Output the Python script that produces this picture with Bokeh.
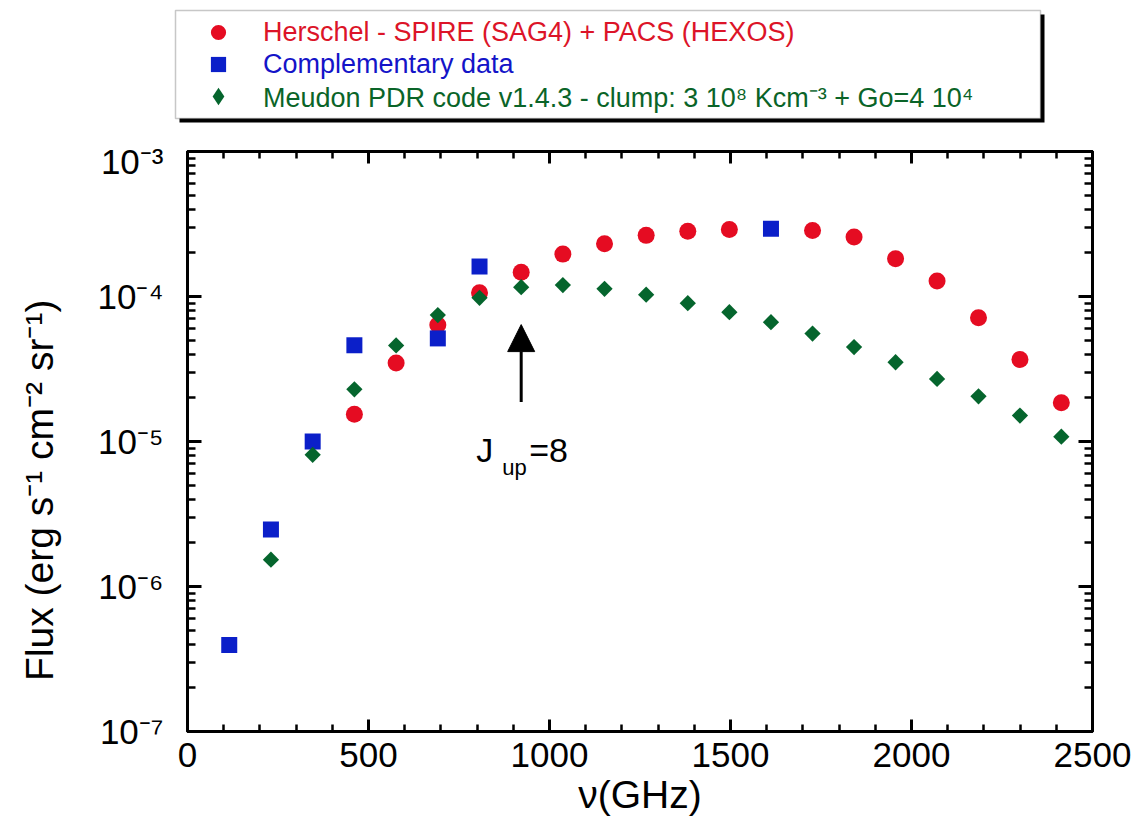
import math
from bokeh.plotting import figure
from bokeh.models import (LinearAxis, LogAxis, FixedTicker, Legend, LegendItem,
                          Label, Arrow, NormalHead, Range1d, BoxAnnotation)
from bokeh.embed import file_html
from bokeh.resources import INLINE

# ---------------- data (CO line frequencies in GHz, fluxes in erg s-1 cm-2 sr-1)
herschel_nu = [461.0, 576.3, 691.5, 806.7, 921.8, 1036.9, 1152.0, 1267.0, 1382.0,
               1496.9, 1726.6, 1841.3, 1956.0, 2070.6, 2185.1, 2299.6, 2413.9]
herschel_flux = [1.54e-5, 3.48e-5, 6.35e-5, 1.06e-4, 1.47e-4, 1.96e-4, 2.31e-4, 2.64e-4,
                 2.82e-4, 2.90e-4, 2.85e-4, 2.57e-4, 1.82e-4, 1.28e-4, 7.13e-5, 3.68e-5,
                 1.85e-5]

comp_nu = [115.3, 230.5, 345.8, 461.0, 691.5, 806.7, 1611.8]
comp_flux = [3.95e-7, 2.47e-6, 1.0e-5, 4.61e-5, 5.14e-5, 1.61e-4, 2.93e-4]

model_nu = [230.5, 345.8, 461.0, 576.3, 691.5, 806.7, 921.8, 1036.9, 1152.0, 1267.0,
            1382.0, 1496.9, 1611.8, 1726.6, 1841.3, 1956.0, 2070.6, 2185.1, 2299.6, 2413.9]
model_flux = [1.53e-6, 8.1e-6, 2.29e-5, 4.6e-5, 7.45e-5, 9.8e-5, 1.16e-4, 1.20e-4,
              1.13e-4, 1.03e-4, 9.0e-5, 7.8e-5, 6.65e-5, 5.55e-5, 4.48e-5, 3.52e-5,
              2.70e-5, 2.05e-5, 1.51e-5, 1.08e-5]

x_major = [0, 500, 1000, 1500, 2000, 2500]
x_minor = [v for v in range(100, 2500, 100) if v % 500 != 0]
y_major = [1e-7, 1e-6, 1e-5, 1e-4, 1e-3]
y_major_labels = ["10⁻⁷", "10⁻⁶", "10⁻⁵", "10⁻⁴", "10⁻³"]
y_minor = [k * 10.0 ** e for e in range(-7, -3) for k in range(2, 10)]

legend_labels = ["Herschel - SPIRE (SAG4) + PACS (HEXOS)",
                 "Complementary data",
                 "Meudon PDR code v1.4.3 - clump: 3 10⁸ Kcm⁻³ + Go=4 10⁴"]

arrow_nu = 921.8
arrow_flux = [1.87e-5, 6.4e-5]
jup_flux = 8.8e-6

RED = "#e50c22"
BLUE = "#0b1fc9"
GREEN = "#05652d"
RED_T = "#dc1428"
BLUE_T = "#1414c8"
GREEN_T = "#0a6428"
FONT = "Liberation Sans"

W = 1137
LEG_H = 141
NAN = float("nan")
NBSP = "\u00a0"

# ---------------- main plot
p = figure(frame_width=905, frame_height=580,
           x_range=Range1d(0, 2500), y_range=Range1d(1e-7, 1e-3),
           y_axis_type="log", output_backend="svg", toolbar_location=None,
           min_border_left=187, min_border_right=45, min_border_top=10,
           min_border_bottom=83, background_fill_color="white",
           border_fill_color="white")
p.xgrid.visible = False
p.ygrid.visible = False
p.outline_line_color = "black"
p.outline_line_width = 3

xt = FixedTicker(ticks=x_major, minor_ticks=x_minor)
yt = FixedTicker(ticks=y_major, minor_ticks=y_minor)


def style_axis(ax, major_len, minor_len):
    ax.axis_line_width = 3
    ax.axis_line_color = "black"
    ax.major_tick_line_width = 3
    ax.minor_tick_line_width = 2.5
    ax.major_tick_in = major_len
    ax.major_tick_out = 0
    ax.minor_tick_in = minor_len
    ax.minor_tick_out = 0
    ax.major_label_text_font = FONT
    ax.major_label_text_font_size = "35px"
    ax.major_label_text_color = "black"
    ax.axis_label_text_font = FONT
    ax.axis_label_text_font_size = "39px"
    ax.axis_label_text_font_style = "normal"
    ax.axis_label_text_color = "black"


xa = p.xaxis[0]
xa.ticker = xt
style_axis(xa, 12, 7)
xa.major_label_standoff = 11
xa.axis_label = "ν(GHz)"
xa.axis_label_standoff = 3

ya = p.yaxis[0]
ya.ticker = yt
style_axis(ya, 14, 8)
ya.major_label_overrides = dict(zip(y_major, y_major_labels))
ya.major_label_standoff = 24
ya.axis_label = "Flux (erg s⁻¹   cm⁻²   sr⁻¹)" + NBSP * 5
ya.axis_label_standoff = 34

top = LinearAxis(ticker=xt, major_label_overrides={v: "" for v in x_major})
style_axis(top, 12, 7)
top.major_label_text_font_size = "0px"
top.major_label_standoff = 0
p.add_layout(top, "above")
right = LogAxis(ticker=yt, major_label_overrides={v: "" for v in y_major})
style_axis(right, 14, 8)
right.major_label_text_font_size = "0px"
right.major_label_standoff = 0
p.add_layout(right, "right")

r_h = p.scatter(herschel_nu, herschel_flux, marker="circle", size=17,
                fill_color=RED, line_color=None)
r_c = p.scatter(comp_nu, comp_flux, marker="square", size=16,
                fill_color=BLUE, line_color=None)
r_m = p.scatter(model_nu, model_flux, marker="square", angle=math.pi / 4, size=11.5,
                fill_color=GREEN, line_color=None)

# arrow + J_up=8 annotation
p.add_layout(Arrow(end=NormalHead(size=27, fill_color="black", line_color="black"),
                   x_start=arrow_nu, y_start=arrow_flux[0],
                   x_end=arrow_nu, y_end=arrow_flux[1],
                   line_width=3, line_color="black"))
p.add_layout(Label(x=arrow_nu, y=jup_flux, x_offset=-45, text="J", text_font=FONT,
                   text_font_size="34px", text_color="black",
                   text_baseline="alphabetic", text_align="left"))
p.add_layout(Label(x=arrow_nu, y=jup_flux, x_offset=-19, y_offset=-18, text="up",
                   text_font=FONT, text_font_size="22px", text_color="black",
                   text_baseline="alphabetic", text_align="left"))
p.add_layout(Label(x=arrow_nu, y=jup_flux, x_offset=8, text="=8", text_font=FONT,
                   text_font_size="34px", text_color="black",
                   text_baseline="alphabetic", text_align="left"))

# ---------------- legend panel (pixel-like coordinates, y grows downward)
lf = figure(width=W, height=LEG_H, x_range=Range1d(0, W), y_range=Range1d(LEG_H, 0),
            output_backend="svg", toolbar_location=None,
            x_axis_location=None, y_axis_location=None,
            min_border_left=0, min_border_right=0, min_border_top=0, min_border_bottom=0,
            background_fill_color="white", border_fill_color="white")
lf.outline_line_color = None
lf.xgrid.visible = False
lf.ygrid.visible = False

# legend swatch renderers (a single undefined point each, never drawn in the panel)
l_h = lf.scatter([NAN], [NAN], marker="circle", fill_color=RED, line_color=None)
l_c = lf.scatter([NAN], [NAN], marker="square", fill_color=BLUE, line_color=None)
l_m = lf.scatter([NAN], [NAN], marker="diamond", fill_color=GREEN, line_color=None)

# legend frame with drop shadow
lf.add_layout(BoxAnnotation(left=179, right=1044, top=14, bottom=122, level="underlay",
                            fill_color="black", fill_alpha=1.0, line_color=None))
lf.add_layout(BoxAnnotation(left=175, right=1040, top=10, bottom=118, level="underlay",
                            fill_color="white", fill_alpha=1.0, line_color="#444444",
                            line_width=1.5))

# one legend per entry so that each label keeps its own colour
entries = [
    # renderer, text colour, glyph box, label standoff, x, bottom (from panel bottom)
    (l_h, RED_T, 38, 26, 199, LEG_H - 51),
    (l_c, BLUE_T, 38, 26, 199, LEG_H - 83),
    (l_m, GREEN_T, 44, 23, 196, LEG_H - 118),
]
for (r, col, gsz, stand, vx, vy), txt in zip(entries, legend_labels):
    lf.add_layout(Legend(items=[LegendItem(label=txt, renderers=[r])],
                         location=(vx, vy), orientation="vertical",
                         glyph_height=gsz, glyph_width=gsz, padding=0, margin=0,
                         spacing=0, label_standoff=stand, label_height=20,
                         label_text_font=FONT, label_text_font_size="27px",
                         label_text_color=col,
                         border_line_color=None, background_fill_alpha=0.0))

open("out.html", "w").write(file_html([lf, p], INLINE))
